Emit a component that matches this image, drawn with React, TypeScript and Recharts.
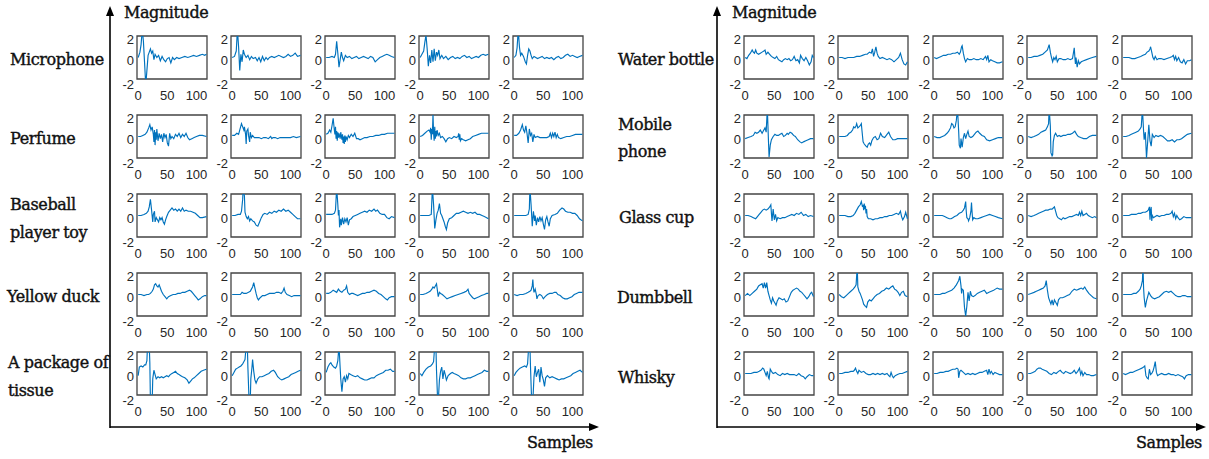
import React from "react";
import { LineChart, Line, XAxis, YAxis, ReferenceArea } from "recharts";

type Pt = [number, number];

// ---------- axis values ----------
const SAMPLE_DOMAIN: [number, number] = [-2, 118];
const SAMPLE_TICKS = [0, 50, 100];
const MAG_DOMAIN: [number, number] = [-2, 2];
const MAG_TICKS = [-2, 0, 2];

// ---------- object names ----------
const leftObjects: string[][] = [["Microphone"], ["Perfume"], ["Baseball", "player toy"], ["Yellow duck"], ["A package of", "tissue"]];
const rightObjects: string[][] = [["Water bottle"], ["Mobile", "phone"], ["Glass cup"], ["Dumbbell"], ["Whisky"]];

// ---------- signals: [sample, magnitude] ----------
const microphone: Pt[][] = [
  [[0,0],[3,0.5],[5,1.2],[7,2.6],[9,1.5],[11,-0.5],[13,-2.6],[15,-1.2],[17,0.2],[19,0.5],[21,0.8],[23,0.4],[25,0.6],[27,-0.2],[29,0.3],[32,0.0],[35,0.2],[38,-0.3],[41,0.1],[44,-0.2],[47,-0.4],[50,-0.1],[53,0.0],[56,-0.5],[59,0.0],[62,-0.2],[66,0.0],[70,-0.1],[75,0.0],[80,0.1],[85,0.0],[90,0.1],[95,0.2],[100,0.1],[105,0.2],[110,0.3],[114,0.2],[117,0.3]],
  [[0,0],[4,0.1],[7,0.6],[9,2.6],[11,1.0],[13,-1.2],[15,0.3],[17,-0.4],[19,0.7],[21,0.3],[24,0.0],[27,0.2],[30,-0.2],[33,0.1],[36,-0.1],[40,0.0],[43,-0.3],[46,0.0],[49,-0.4],[52,0.1],[55,-0.3],[58,0.0],[61,-0.2],[64,0.0],[68,0.1],[72,0.0],[76,0.1],[80,0.2],[84,0.1],[88,0.0],[92,0.1],[96,0.3],[100,0.1],[104,0.2],[108,0.4],[112,0.1],[117,0.2]],
  [[0,0],[5,0.0],[10,0.1],[14,0.0],[16,0.3],[18,1.5],[20,0.4],[22,-0.9],[24,-0.2],[26,0.5],[28,0.0],[30,-0.3],[33,0.2],[36,0.0],[40,0.1],[44,-0.1],[48,0.0],[52,0.1],[56,-0.1],[60,0.0],[64,0.1],[68,0.0],[72,-0.1],[76,0.1],[80,0.0],[84,-0.4],[88,-0.2],[92,0.0],[96,0.1],[100,0.2],[104,0.3],[108,0.2],[112,0.1],[117,0.0]],
  [[0,0],[3,0.3],[6,0.6],[8,1.4],[10,2.1],[12,0.8],[14,-0.8],[16,0.2],[18,-0.5],[20,0.7],[22,-0.4],[24,0.8],[26,-0.3],[28,0.5],[30,0.2],[32,0.7],[34,-0.1],[37,0.2],[40,-0.1],[44,0.1],[48,-0.2],[52,0.0],[56,0.1],[60,-0.1],[64,0.0],[68,-0.1],[72,0.1],[76,0.2],[80,0.0],[84,0.1],[88,-0.1],[92,0.0],[96,0.1],[100,0.0],[104,0.2],[108,0.3],[112,0.2],[117,0.3]],
  [[0,0],[3,0.2],[5,0.9],[7,2.6],[9,1.0],[11,0.2],[13,0.4],[16,0.1],[19,-0.4],[21,-0.6],[23,0.2],[25,0.8],[27,0.6],[29,0.2],[31,-0.1],[34,0.1],[37,0.0],[40,-0.1],[44,0.0],[48,0.1],[52,-0.1],[56,0.0],[60,-0.1],[64,0.0],[68,-0.2],[72,0.0],[76,0.1],[80,-0.1],[84,0.0],[88,0.2],[92,0.3],[96,0.1],[100,0.2],[104,0.1],[108,0.0],[112,0.1],[117,0.2]],
];

const perfume: Pt[][] = [
  [[0,0],[4,0.0],[8,0.1],[12,0.2],[15,0.4],[18,0.8],[20,1.1],[22,0.6],[24,0.9],[26,0.2],[27,-0.5],[28,0.6],[29,-0.8],[30,0.4],[31,-0.3],[32,0.7],[34,-0.4],[36,0.3],[38,-0.2],[40,0.2],[42,-0.5],[44,0.3],[46,-0.1],[48,0.2],[50,-0.6],[52,-0.9],[54,0.3],[56,-0.2],[58,0.0],[61,-0.2],[64,0.2],[67,0.0],[70,0.3],[73,-0.1],[76,0.2],[79,0.0],[82,0.3],[85,-0.1],[88,-0.3],[92,-0.2],[96,-0.1],[100,0.0],[105,0.1],[110,0.1],[117,0.0]],
  [[0,0.1],[4,0.1],[8,0.3],[11,0.2],[14,0.8],[16,1.2],[18,0.9],[20,0.6],[21,0.9],[23,0.2],[24,-0.7],[25,0.5],[27,0.7],[28,0.1],[30,-0.5],[31,0.4],[33,-0.1],[35,0.1],[38,-0.1],[42,-0.1],[46,-0.1],[50,-0.2],[54,-0.1],[58,-0.1],[62,-0.2],[66,0.0],[68,-0.2],[70,-0.1],[74,-0.1],[78,-0.2],[82,-0.1],[86,-0.1],[90,-0.1],[95,-0.1],[100,-0.1],[105,0.0],[110,-0.1],[117,0.0]],
  [[0,0.2],[3,0.3],[6,0.6],[8,0.4],[10,1.0],[12,1.7],[14,0.6],[15,0.2],[16,0.9],[17,-0.2],[18,0.5],[19,-0.4],[20,0.4],[21,-0.1],[22,0.3],[24,-0.2],[25,0.4],[27,-0.3],[28,0.2],[29,-0.6],[30,0.0],[31,-0.7],[32,0.1],[33,-0.5],[34,0.0],[36,-0.3],[38,0.1],[40,-0.1],[43,0.2],[46,0.0],[49,0.3],[52,-0.2],[55,-0.2],[58,-0.3],[62,-0.2],[66,-0.1],[70,-0.1],[75,0.0],[80,0.0],[85,0.1],[90,0.1],[95,0.2],[100,0.2],[105,0.3],[110,0.3],[117,0.3]],
  [[0,0],[4,0.1],[8,0.3],[12,0.5],[15,0.6],[17,0.4],[18,0.8],[19,-0.3],[20,0.7],[21,0.2],[22,2.1],[23,0.3],[24,-0.4],[25,0.9],[26,-0.2],[27,0.5],[28,0.0],[29,0.6],[31,0.1],[33,0.3],[35,-0.1],[38,0.0],[41,-0.2],[44,-0.5],[47,-0.2],[50,-0.1],[54,-0.2],[58,0.0],[62,-0.1],[65,0.0],[66,0.3],[67,-0.3],[68,0.2],[69,-0.4],[71,-0.2],[74,-0.3],[78,-0.4],[82,-0.3],[86,-0.2],[90,0.0],[95,0.1],[100,0.2],[105,0.3],[110,0.3],[117,0.3]],
  [[0,0.1],[4,0.1],[8,0.3],[11,0.6],[14,1.1],[16,0.6],[18,0.4],[20,1.0],[22,0.3],[24,-0.6],[26,0.7],[28,0.1],[30,0.3],[32,-0.5],[34,0.2],[36,-0.1],[40,0.0],[44,-0.1],[48,-0.1],[52,-0.1],[56,-0.1],[60,0.0],[62,0.3],[64,-0.1],[66,0.3],[68,0.0],[70,0.4],[72,-0.1],[74,0.2],[76,-0.1],[80,-0.2],[85,-0.1],[90,0.0],[95,0.0],[100,0.1],[105,0.2],[110,0.2],[117,0.2]],
];

const baseballPlayerToy: Pt[][] = [
  [[0,0],[5,0.0],[10,0.1],[14,0.2],[17,0.4],[19,0.8],[21,1.5],[23,0.5],[25,-0.6],[26,0.1],[28,0.4],[29,-0.6],[31,-0.2],[33,-0.4],[35,-0.6],[37,-0.2],[39,-0.4],[41,-0.2],[43,-0.6],[45,-0.8],[47,-0.4],[49,-0.1],[52,0.3],[55,0.5],[58,0.7],[61,0.5],[64,0.6],[67,0.4],[70,0.6],[73,0.4],[76,0.7],[79,0.4],[82,0.5],[86,0.4],[90,0.4],[94,0.3],[98,0.2],[102,0.0],[106,-0.2],[110,-0.2],[117,-0.1]],
  [[0,0],[5,0.0],[10,0.1],[14,0.1],[16,0.4],[18,1.5],[19,2.6],[21,1.8],[22,0.3],[24,-0.1],[26,-0.3],[28,-0.1],[30,-0.5],[32,-0.3],[35,-0.5],[38,-0.6],[41,-0.9],[44,-1.0],[47,-0.6],[50,-0.2],[53,0.1],[56,0.2],[60,0.1],[64,0.3],[68,0.2],[72,0.4],[76,0.3],[80,0.5],[84,0.4],[88,0.6],[92,0.4],[96,0.5],[100,0.3],[104,0.1],[108,-0.1],[112,-0.3],[117,-0.3]],
  [[0,0.1],[5,0.1],[10,0.1],[14,0.2],[16,0.5],[18,2.6],[20,1.0],[21,0.0],[22,0.5],[23,-1.1],[25,-0.3],[26,-0.9],[28,-0.2],[30,-0.8],[32,-0.3],[34,-0.6],[36,-0.2],[38,-0.9],[40,-0.4],[43,-0.3],[46,-0.1],[50,0.0],[54,0.1],[58,0.2],[62,0.3],[66,0.4],[70,0.3],[74,0.5],[78,0.4],[82,0.6],[85,0.4],[88,0.5],[92,0.2],[96,0.1],[100,0.1],[104,-0.2],[108,-0.3],[112,-0.1],[117,-0.2]],
  [[0,0],[5,0.0],[10,0.0],[15,0.0],[19,0.1],[21,2.6],[23,1.0],[25,-1.2],[27,-0.4],[29,0.2],[31,0.5],[33,1.1],[35,0.2],[37,0.0],[39,-0.3],[41,-0.6],[43,-1.0],[45,-1.3],[47,-0.7],[50,-0.3],[54,-0.2],[58,0.0],[62,0.2],[66,0.2],[70,0.3],[74,0.4],[78,0.3],[82,0.2],[86,0.3],[90,0.2],[94,0.3],[98,0.1],[102,0.1],[106,0.0],[110,-0.1],[114,-0.2],[117,-0.3]],
  [[0,0],[5,0.0],[10,0.0],[15,0.0],[20,0.0],[24,0.1],[26,0.6],[27,2.6],[29,1.0],[31,-1.0],[33,0.4],[35,-0.5],[36,0.0],[38,-0.9],[40,-0.2],[42,-0.6],[44,-0.1],[46,-0.5],[48,-0.2],[50,-0.8],[52,-1.3],[54,-0.4],[56,-0.1],[58,-0.6],[60,-1.0],[62,-0.3],[65,0.0],[70,0.1],[74,0.2],[78,0.5],[82,0.7],[85,0.6],[88,0.4],[92,0.3],[96,0.3],[100,0.2],[104,0.2],[108,0.0],[112,-0.3],[117,-0.5]],
];

const yellowDuck: Pt[][] = [
  [[0,0],[5,0.0],[10,-0.1],[15,0.0],[18,0.0],[21,0.1],[24,0.3],[26,0.5],[28,0.9],[30,1.0],[32,0.8],[34,0.7],[36,0.9],[38,0.6],[40,0.3],[43,0.0],[46,-0.2],[49,-0.4],[52,-0.2],[56,-0.1],[60,0.0],[64,0.0],[68,0.1],[72,0.1],[76,0.2],[80,0.2],[84,0.3],[88,0.4],[91,0.3],[94,0.1],[97,-0.1],[100,-0.3],[103,-0.5],[106,-0.4],[110,-0.2],[114,-0.1],[117,-0.1]],
  [[0,0],[5,0.0],[10,0.0],[14,0.0],[17,0.2],[20,0.1],[24,0.1],[28,0.2],[31,0.3],[33,0.5],[35,0.7],[37,1.1],[39,0.6],[41,0.1],[43,-0.3],[45,-0.5],[48,-0.3],[52,-0.1],[56,-0.1],[60,0.0],[64,0.1],[68,0.1],[72,0.1],[76,0.2],[80,0.2],[84,0.1],[87,0.3],[89,0.6],[91,0.2],[94,0.0],[98,-0.1],[102,-0.2],[106,-0.1],[110,-0.1],[114,-0.1],[117,-0.1]],
  [[0,0.1],[4,0.1],[8,0.2],[12,0.4],[15,0.3],[18,0.2],[21,0.5],[24,0.3],[27,0.2],[30,0.4],[33,0.5],[35,0.8],[37,0.2],[40,0.0],[43,0.1],[46,0.1],[50,0.0],[54,-0.1],[58,0.0],[62,0.1],[66,0.1],[70,0.2],[74,0.2],[78,0.3],[82,0.4],[86,0.3],[90,0.1],[94,0.0],[98,-0.2],[102,-0.4],[105,-0.5],[108,-0.3],[112,-0.2],[117,-0.2]],
  [[0,0],[5,0.0],[10,0.1],[14,0.2],[17,0.3],[20,0.5],[22,0.7],[24,0.6],[26,0.8],[28,1.0],[29,0.6],[31,-0.2],[33,0.2],[35,0.1],[38,0.0],[42,-0.2],[46,-0.4],[50,-0.3],[55,-0.2],[60,-0.1],[65,0.0],[70,0.1],[75,0.2],[79,0.3],[82,0.5],[84,0.1],[87,-0.1],[90,-0.3],[93,-0.4],[97,-0.3],[101,-0.2],[105,-0.1],[110,0.0],[114,0.1],[117,0.1]],
  [[0,0],[5,-0.1],[10,0.0],[15,0.0],[20,0.1],[24,0.2],[27,0.3],[29,0.4],[31,0.8],[32,1.4],[33,0.6],[34,0.2],[36,0.5],[38,0.0],[39,-0.4],[41,-0.1],[44,0.0],[47,-0.1],[50,-0.4],[53,-0.2],[57,0.0],[61,0.1],[65,0.1],[69,0.2],[72,0.2],[75,0.0],[79,-0.1],[83,-0.3],[87,-0.4],[91,-0.4],[95,-0.3],[99,-0.2],[103,0.0],[107,0.1],[111,0.2],[117,0.2]],
];

const tissue: Pt[][] = [
  [[0,-0.2],[2,0.6],[5,0.7],[8,0.6],[11,0.8],[13,0.8],[15,1.2],[16,2.6],[19,2.6],[20,1.0],[21,-2.6],[24,-2.6],[25,-0.5],[27,0.3],[29,-0.1],[31,-0.5],[34,-0.3],[37,-0.4],[40,-0.3],[43,-0.4],[46,-0.3],[49,-0.2],[52,-0.3],[55,-0.1],[58,0.0],[61,0.1],[64,0.2],[67,0.0],[70,-0.1],[73,-0.2],[76,-0.3],[80,-0.4],[84,-0.6],[87,-0.9],[90,-0.7],[93,-0.5],[96,-0.4],[100,-0.2],[104,0.0],[108,0.2],[112,0.3],[117,0.4]],
  [[0,-0.2],[3,0.1],[6,0.4],[9,0.5],[12,0.6],[15,0.7],[18,0.9],[20,1.1],[22,1.3],[24,2.6],[26,2.6],[27,0.5],[29,-2.6],[31,-2.6],[32,-0.5],[34,0.6],[35,1.3],[37,0.2],[39,-0.6],[41,-0.9],[44,-0.5],[47,-0.3],[51,-0.3],[55,-0.2],[59,-0.1],[63,0.0],[67,0.2],[71,0.3],[74,0.1],[78,-0.3],[82,-0.5],[85,-0.6],[89,-0.5],[93,-0.4],[97,-0.3],[101,-0.1],[105,0.0],[109,0.1],[113,0.2],[117,0.3]],
  [[0,0.1],[3,0.6],[6,0.9],[8,1.0],[10,0.8],[13,0.6],[16,0.5],[18,0.7],[20,1.2],[22,2.6],[24,0.5],[25,-0.5],[27,-1.7],[29,-0.5],[31,-0.3],[33,-0.8],[35,-0.2],[37,-0.5],[39,0.0],[42,-0.1],[46,-0.2],[50,-0.3],[54,-0.2],[58,-0.4],[62,-0.5],[66,-0.6],[70,-0.6],[74,-0.5],[78,-0.4],[82,-0.4],[86,-0.2],[90,-0.1],[94,0.0],[98,0.1],[102,0.3],[106,0.3],[110,0.4],[114,0.2],[117,0.2]],
  [[0,0],[3,-0.2],[6,0.1],[10,0.4],[14,0.6],[18,0.7],[21,0.9],[23,1.1],[25,2.6],[27,2.6],[28,0.3],[30,-2.6],[31,-2.6],[33,-0.6],[35,0.2],[37,0.6],[39,-0.5],[41,0.3],[43,-0.1],[45,-0.6],[48,-0.2],[52,0.0],[55,0.1],[58,0.0],[62,-0.1],[66,-0.2],[70,-0.4],[74,-0.5],[78,-0.5],[82,-0.4],[86,-0.4],[90,-0.3],[94,-0.2],[98,-0.1],[102,0.0],[106,0.1],[110,0.3],[114,0.2],[117,0.2]],
  [[0,-0.2],[3,0.1],[6,0.3],[10,0.5],[14,0.6],[18,0.7],[21,0.6],[23,0.9],[25,2.6],[27,2.6],[28,0.6],[30,-2.6],[32,-2.6],[34,-0.3],[36,0.7],[38,-0.3],[40,0.1],[42,0.4],[44,-0.8],[46,0.6],[48,-0.2],[50,-0.6],[52,-1.2],[54,-0.4],[57,-0.2],[61,-0.4],[65,-0.3],[69,-0.4],[73,-0.5],[77,-0.6],[81,-0.5],[85,-0.5],[89,-0.4],[93,-0.3],[97,-0.2],[101,0.0],[105,0.1],[109,0.2],[113,0.3],[117,0.1]],
];

const waterBottle: Pt[][] = [
  [[0,0],[3,-0.1],[6,0.2],[9,0.4],[12,0.7],[14,0.5],[16,0.4],[18,0.7],[20,0.4],[23,0.3],[26,0.4],[29,0.5],[32,0.6],[34,0.7],[36,0.3],[39,0.5],[42,0.3],[45,0.1],[48,0.0],[51,-0.1],[54,0.1],[57,-0.2],[60,-0.3],[63,-0.4],[66,-0.2],[69,-0.1],[72,-0.2],[75,-0.1],[78,-0.3],[81,-0.2],[84,0.1],[87,-0.3],[90,-0.2],[93,-0.5],[95,0.2],[98,-0.1],[101,-0.3],[104,0.0],[107,-0.3],[110,-0.7],[113,-0.4],[115,0.2],[117,0.0]],
  [[0,0],[5,0.0],[10,-0.1],[15,0.0],[20,0.0],[25,0.0],[30,0.1],[35,0.1],[40,0.2],[45,0.3],[48,0.3],[52,0.5],[55,0.4],[57,0.8],[59,0.1],[61,0.5],[63,1.0],[65,0.4],[67,0.1],[70,-0.1],[74,0.0],[78,-0.1],[82,-0.2],[86,-0.1],[90,-0.2],[94,-0.4],[98,-0.2],[102,0.0],[105,0.4],[108,-0.2],[111,-0.6],[114,-0.7],[117,-0.4]],
  [[0,0],[4,-0.1],[8,0.0],[12,0.1],[16,0.2],[20,0.2],[24,0.3],[28,0.3],[32,0.4],[36,0.4],[40,0.5],[43,0.3],[45,0.5],[47,1.0],[48,1.1],[50,0.4],[52,-0.1],[54,-0.4],[57,-0.1],[60,-0.2],[64,-0.2],[68,-0.1],[72,-0.2],[76,-0.2],[80,-0.1],[84,-0.2],[88,0.1],[90,-0.2],[92,0.2],[94,-0.4],[97,-0.2],[100,-0.3],[104,-0.4],[108,-0.5],[112,-0.5],[117,-0.4]],
  [[0,0],[5,0.0],[10,0.1],[15,0.1],[20,0.2],[25,0.3],[29,0.5],[33,0.7],[36,1.2],[38,0.5],[40,0.0],[42,-0.4],[44,0.0],[46,-0.2],[48,0.1],[50,-0.4],[53,-0.1],[56,-0.1],[60,-0.2],[64,-0.2],[68,-0.1],[72,-0.2],[76,-0.1],[79,0.9],[80,0.1],[81,-0.6],[82,0.0],[84,-0.9],[86,-0.3],[88,-0.6],[91,-0.4],[95,-0.3],[100,-0.2],[105,-0.1],[110,0.0],[117,0.1]],
  [[0,0],[5,0.0],[10,0.0],[15,-0.1],[20,-0.1],[25,0.0],[30,0.1],[34,0.2],[38,0.3],[41,0.5],[44,0.6],[46,0.8],[47,1.0],[49,0.5],[51,0.0],[53,-0.2],[55,0.1],[58,-0.2],[61,-0.1],[65,-0.1],[70,-0.2],[75,-0.1],[80,0.0],[84,0.1],[86,0.2],[88,-0.2],[90,0.1],[92,-0.3],[95,0.0],[98,-0.4],[101,-0.5],[104,-0.2],[107,-0.6],[110,-0.3],[114,-0.3],[117,-0.2]],
];

const mobilePhone: Pt[][] = [
  [[0,-0.2],[5,-0.1],[10,0.0],[14,0.1],[17,0.4],[20,0.3],[23,0.4],[26,0.6],[29,0.3],[32,0.6],[34,0.8],[36,0.4],[38,2.6],[40,-0.5],[41,-1.9],[43,-0.8],[45,-0.3],[48,0.0],[51,0.2],[54,0.1],[57,0.1],[60,0.2],[63,0.3],[66,0.0],[69,0.1],[72,0.3],[74,0.2],[77,0.4],[80,0.3],[83,0.1],[86,0.0],[90,-0.3],[94,-0.5],[97,-0.6],[100,-0.5],[104,-0.4],[108,-0.3],[112,-0.2],[117,-0.2]],
  [[0,0],[5,0.0],[10,0.0],[14,0.1],[17,0.3],[20,0.4],[23,0.6],[25,0.9],[27,0.8],[29,1.0],[30,1.2],[32,0.8],[34,0.9],[36,1.0],[38,1.2],[39,0.6],[41,-0.5],[43,-0.7],[46,-0.9],[48,-1.0],[50,-0.7],[52,-0.6],[54,-0.8],[56,-0.4],[59,-0.1],[62,0.0],[65,-0.3],[68,-0.2],[71,0.3],[74,0.0],[78,-0.1],[82,0.2],[85,0.4],[88,0.0],[92,-0.3],[96,-0.3],[100,-0.2],[105,-0.2],[110,-0.2],[117,-0.2]],
  [[0,0],[5,-0.1],[10,-0.1],[14,0.0],[18,0.1],[22,0.3],[25,0.5],[28,0.8],[30,1.2],[32,1.1],[34,0.8],[36,0.9],[38,1.5],[40,2.6],[42,0.5],[43,-0.8],[45,-1.1],[46,-0.2],[48,-1.0],[50,-0.1],[52,0.3],[54,-0.2],[56,0.2],[58,0.5],[60,0.0],[63,-0.1],[66,0.0],[69,0.2],[72,0.4],[75,0.5],[78,0.3],[82,0.1],[86,0.0],[90,-0.3],[95,-0.4],[100,-0.3],[105,-0.2],[110,-0.1],[117,-0.1]],
  [[0,0],[5,-0.1],[10,0.0],[14,0.1],[18,0.2],[22,0.4],[26,0.5],[30,0.6],[33,0.9],[35,1.2],[36,2.6],[38,1.0],[39,-1.5],[41,-1.8],[42,-1.7],[43,-0.5],[45,0.1],[47,0.3],[50,0.0],[53,0.1],[56,0.0],[60,0.1],[64,0.1],[68,0.2],[72,0.2],[76,0.3],[80,0.5],[83,0.2],[86,0.0],[90,-0.1],[95,-0.2],[100,-0.2],[105,0.0],[110,0.1],[117,0.1]],
  [[0,0],[5,0.0],[10,0.1],[14,0.2],[18,0.3],[22,0.4],[26,0.5],[29,0.7],[31,0.9],[33,2.6],[35,0.5],[36,-0.3],[38,0.4],[40,-2.0],[42,-0.5],[44,1.1],[46,-0.4],[48,-0.9],[50,0.2],[53,-0.1],[56,0.1],[60,0.0],[64,0.1],[68,0.0],[72,-0.2],[76,-0.4],[80,-0.4],[84,-0.3],[88,-0.5],[92,-0.3],[96,-0.3],[100,-0.2],[105,0.0],[110,0.2],[117,0.3]],
];

const glassCup: Pt[][] = [
  [[0,0],[5,0.0],[10,-0.1],[14,-0.2],[18,-0.3],[21,-0.1],[24,0.1],[27,0.3],[30,0.5],[33,0.6],[36,0.5],[39,0.6],[42,0.8],[44,1.0],[45,0.2],[46,-0.5],[48,0.6],[49,0.1],[50,-0.4],[52,0.1],[54,-0.5],[56,-0.2],[60,-0.3],[64,-0.2],[68,-0.2],[72,-0.1],[76,0.0],[80,0.1],[84,0.0],[88,0.2],[92,0.1],[96,0.3],[100,0.0],[104,0.1],[108,-0.1],[112,0.0],[117,-0.1]],
  [[0,0],[5,0.0],[10,0.0],[15,-0.1],[20,-0.1],[24,0.0],[27,0.2],[30,0.5],[33,0.8],[36,1.0],[38,1.3],[40,0.8],[41,1.0],[42,0.5],[43,1.1],[44,0.6],[45,0.9],[46,0.2],[47,0.6],[48,-0.1],[50,-0.3],[54,-0.3],[58,-0.4],[62,-0.3],[66,-0.3],[70,-0.2],[74,-0.2],[78,-0.1],[82,-0.1],[86,0.0],[90,0.0],[94,0.1],[98,0.2],[102,0.1],[105,0.4],[107,-0.1],[109,-0.4],[112,-0.1],[114,0.3],[117,-0.3]],
  [[0,0],[5,0.0],[10,0.0],[14,0.0],[18,-0.1],[22,-0.2],[26,-0.3],[29,-0.3],[32,-0.2],[35,-0.1],[39,0.0],[43,0.2],[47,0.3],[50,0.5],[52,0.7],[54,1.3],[55,0.4],[56,-0.2],[58,-0.3],[59,-0.5],[61,-0.2],[63,0.4],[64,1.2],[65,0.3],[66,-0.4],[68,-0.2],[71,-0.3],[75,-0.3],[80,-0.2],[85,-0.1],[90,0.0],[95,0.1],[100,0.0],[105,-0.1],[110,-0.2],[117,-0.3]],
  [[0,0],[5,-0.1],[10,0.0],[14,0.1],[18,0.2],[22,0.3],[26,0.4],[30,0.5],[34,0.5],[38,0.6],[41,0.6],[43,0.7],[45,0.8],[47,0.4],[49,0.0],[51,-0.2],[54,-0.3],[57,-0.4],[60,-0.2],[63,-0.3],[67,-0.2],[71,-0.1],[75,-0.1],[79,0.0],[83,0.1],[86,0.0],[88,0.3],[90,0.0],[92,0.4],[94,0.0],[97,0.1],[100,0.2],[103,0.0],[106,-0.1],[110,-0.2],[114,-0.1],[117,-0.2]],
  [[0,0],[5,0.0],[10,0.0],[14,0.1],[18,0.1],[22,0.1],[26,0.2],[30,0.2],[34,0.3],[38,0.3],[41,0.4],[43,0.5],[45,0.8],[46,-0.4],[47,0.5],[48,0.8],[49,-0.5],[50,0.0],[52,-0.2],[55,-0.1],[58,0.0],[62,-0.1],[66,0.0],[70,0.0],[74,0.1],[78,0.1],[82,0.2],[84,0.4],[86,-0.1],[88,0.2],[90,-0.3],[92,0.0],[94,-0.2],[97,-0.4],[100,-0.3],[104,-0.1],[108,-0.2],[112,-0.2],[117,-0.2]],
];

const dumbbell: Pt[][] = [
  [[0,-0.1],[4,0.1],[8,-0.1],[12,0.1],[16,0.3],[20,0.5],[23,0.8],[26,0.9],[29,1.0],[31,0.6],[33,1.1],[35,0.6],[37,1.1],[39,0.3],[41,-0.1],[43,-0.5],[45,-0.8],[47,-0.3],[49,-0.6],[51,-0.8],[53,-1.0],[55,-0.6],[58,-0.3],[61,-0.4],[64,-0.5],[67,-0.4],[70,-0.7],[73,-0.6],[76,-0.2],[79,0.2],[82,0.4],[85,0.5],[88,0.6],[91,0.5],[94,0.3],[97,0.2],[100,0.0],[103,-0.2],[106,-0.4],[109,-0.2],[112,0.1],[114,0.2],[117,-0.2]],
  [[0,0],[4,-0.2],[8,-0.3],[12,-0.1],[16,0.1],[20,0.3],[24,0.5],[27,0.7],[29,0.9],[31,2.6],[32,0.7],[34,0.3],[36,0.1],[38,-0.2],[40,-0.5],[42,-0.9],[45,-1.1],[47,-1.2],[49,-0.7],[52,-0.5],[55,-0.6],[58,-0.4],[61,-0.2],[65,0.0],[69,0.1],[73,0.3],[77,0.4],[81,0.6],[85,0.5],[89,0.7],[92,0.8],[95,0.5],[98,0.4],[101,0.2],[104,-0.1],[107,0.2],[110,0.3],[113,-0.1],[117,-0.2]],
  [[0,0],[5,0.0],[10,0.0],[14,0.1],[18,0.1],[22,0.2],[26,0.3],[30,0.4],[34,0.6],[38,0.9],[40,1.1],[42,1.3],[44,1.7],[46,0.8],[47,0.1],[48,0.5],[50,0.4],[52,-1.2],[54,-2.0],[56,-1.1],[58,0.2],[60,-0.6],[62,0.3],[64,-0.1],[67,-0.2],[70,-0.1],[74,0.1],[78,0.2],[82,0.3],[86,0.4],[90,0.1],[94,0.2],[98,0.3],[102,0.4],[105,0.5],[108,0.6],[112,0.5],[117,0.5]],
  [[0,0],[5,0.1],[10,0.2],[14,0.3],[18,0.4],[22,0.5],[26,0.6],[29,0.8],[31,1.3],[33,0.4],[35,-0.3],[37,-0.6],[39,-0.9],[41,-0.5],[43,-1.0],[45,-0.5],[47,-0.7],[50,-1.0],[52,-0.5],[55,-0.3],[59,-0.3],[63,-0.2],[67,-0.1],[71,0.0],[75,0.3],[79,0.5],[83,0.4],[87,0.5],[91,0.6],[94,0.5],[97,0.7],[100,0.4],[104,0.1],[108,-0.1],[112,-0.3],[117,-0.4]],
  [[0,0],[5,0.0],[10,0.0],[14,0.0],[18,0.1],[22,0.1],[26,0.3],[29,0.5],[31,0.8],[33,1.3],[34,2.6],[35,0.6],[36,-0.3],[38,-1.2],[40,-0.6],[42,-0.2],[44,0.2],[47,-0.1],[50,-0.3],[54,-0.4],[58,-0.3],[62,-0.2],[66,0.0],[70,0.2],[74,0.3],[78,0.2],[82,0.3],[86,0.1],[90,-0.1],[94,-0.2],[98,-0.2],[102,-0.1],[106,-0.1],[110,-0.2],[117,-0.2]],
];

const whisky: Pt[][] = [
  [[0,0],[5,0.0],[10,0.0],[15,0.1],[20,0.1],[24,0.2],[27,0.3],[30,0.5],[32,0.4],[34,0.1],[36,-0.2],[38,0.2],[40,-0.4],[41,-0.5],[43,0.4],[45,0.2],[48,0.0],[52,0.1],[56,-0.1],[60,-0.2],[64,0.0],[68,-0.1],[72,0.0],[76,-0.1],[80,-0.1],[84,-0.1],[88,-0.2],[92,0.0],[96,-0.2],[100,-0.3],[103,-0.5],[106,-0.3],[110,-0.1],[114,-0.2],[117,-0.2]],
  [[0,0],[5,0.0],[10,0.1],[15,0.1],[20,0.2],[24,0.2],[26,0.3],[28,0.5],[30,0.2],[32,0.0],[34,0.3],[36,0.2],[38,0.1],[42,0.2],[46,0.0],[50,-0.1],[54,-0.1],[58,0.0],[62,-0.1],[66,0.0],[70,-0.1],[74,0.0],[78,-0.1],[82,0.0],[85,-0.2],[87,-0.3],[89,0.1],[91,-0.2],[93,-0.4],[96,-0.2],[100,-0.1],[104,0.0],[108,0.0],[112,0.1],[117,0.2]],
  [[0,0],[5,0.0],[10,0.1],[15,0.1],[20,0.2],[24,0.2],[28,0.3],[32,0.4],[36,0.4],[39,0.5],[41,0.4],[42,-0.4],[44,0.2],[46,0.3],[50,0.1],[54,-0.1],[58,0.0],[62,-0.1],[66,0.0],[70,-0.1],[74,0.0],[78,0.1],[82,0.1],[86,0.2],[90,0.3],[92,-0.1],[94,0.4],[96,0.0],[98,0.2],[101,-0.1],[104,0.1],[108,0.0],[112,-0.1],[117,-0.1]],
  [[0,0],[4,0.0],[8,0.1],[12,0.2],[15,0.4],[18,0.5],[21,0.5],[24,0.4],[28,0.3],[32,0.2],[36,0.0],[40,-0.1],[44,0.1],[48,0.0],[52,0.2],[55,0.3],[58,0.1],[61,0.0],[64,0.2],[68,0.1],[72,0.0],[76,0.1],[79,0.3],[82,0.0],[85,0.2],[88,0.5],[90,-0.1],[92,0.2],[94,-0.2],[97,0.1],[100,-0.1],[104,-0.1],[108,-0.2],[112,-0.2],[117,-0.1]],
  [[0,0],[4,-0.1],[8,0.0],[12,0.1],[16,0.1],[20,0.2],[24,0.3],[28,0.4],[32,0.5],[35,0.6],[37,0.7],[39,-0.2],[41,-0.4],[43,-0.5],[45,0.4],[47,-0.1],[49,0.0],[51,0.2],[53,0.6],[55,1.1],[57,0.1],[59,-0.2],[62,-0.1],[66,0.0],[70,-0.1],[74,-0.1],[78,0.0],[82,-0.1],[86,-0.1],[90,-0.2],[94,-0.1],[98,-0.2],[102,-0.3],[105,-0.5],[108,-0.2],[112,-0.1],[117,-0.1]],
];

const leftRows = [microphone, perfume, baseballPlayerToy, yellowDuck, tissue];
const rightRows = [waterBottle, mobilePhone, glassCup, dumbbell, whisky];

// ---------- layout ----------
const LEFT_COLS = [137, 231, 325, 419, 513];
const RIGHT_COLS = [744, 838, 933, 1027, 1122];
const ROWS = [36, 115, 194, 273, 352];
const BOX_W = 70;
const BOX_H = 43;
const Y_W = 20;
const M_TOP = 6;
const M_RIGHT = 10;
const X_H = 28;

const TICK_FONT = "'Liberation Sans', Arial, sans-serif";
const TICK_COLOR = "#262626";
const SERIF = "'DejaVu Serif', serif";

const XTick = (p: any) => (
  <text x={p.x} y={p.y + 12} dy="0.71em" textAnchor="middle" fontSize={13} fontFamily={TICK_FONT} fill={TICK_COLOR}>
    {p.payload.value}
  </text>
);

const YTick = (p: any) => {
  const v = p.payload.value;
  const off = v === -2 ? 5 : 3;
  return (
    <text x={p.x - 3} y={p.y + off} dy="0.355em" textAnchor="end" fontSize={13} fontFamily={TICK_FONT} fill={TICK_COLOR}>
      {v}
    </text>
  );
};

function Cell({ series, left, top }: { series: Pt[]; left: number; top: number }) {
  const data = series.map(([x, y]) => ({ x, y }));
  return (
    <div style={{ position: "absolute", left: left - Y_W, top: top - M_TOP }}>
      <LineChart width={Y_W + BOX_W + M_RIGHT} height={M_TOP + BOX_H + X_H} data={data} margin={{ top: M_TOP, right: M_RIGHT, bottom: 0, left: 0 }}>
        <XAxis dataKey="x" type="number" domain={SAMPLE_DOMAIN} ticks={SAMPLE_TICKS} interval={0} allowDataOverflow tickLine={false} axisLine={false} tickSize={0} tickMargin={0} height={X_H} tick={(p: any) => <XTick {...p} />} />
        <YAxis type="number" domain={MAG_DOMAIN} ticks={MAG_TICKS} interval={0} allowDataOverflow tickLine={false} axisLine={false} tickSize={0} tickMargin={0} width={Y_W} tick={(p: any) => <YTick {...p} />} />
        <Line dataKey="y" type="linear" stroke="#0072BD" strokeWidth={1.15} dot={false} isAnimationActive={false} />
        <ReferenceArea x1={SAMPLE_DOMAIN[0]} x2={SAMPLE_DOMAIN[1]} y1={MAG_DOMAIN[0]} y2={MAG_DOMAIN[1]} fill="none" fillOpacity={0} stroke="#444" strokeWidth={1.3} ifOverflow="visible" />
      </LineChart>
    </div>
  );
}

function Label({ text, x, baseline }: { text: string; x: number; baseline: number }) {
  return (
    <div style={{ position: "absolute", left: x, top: baseline - 15.5, font: `16px ${SERIF}`, lineHeight: "20px", letterSpacing: "-0.4px", whiteSpace: "nowrap", color: "#111", WebkitTextStroke: "0.4px #111" }}>
      {text}
    </div>
  );
}

const LEFT_LABEL_POS: { x: number; baselines: number[] }[] = [
  { x: 10, baselines: [65] },
  { x: 10, baselines: [144] },
  { x: 10, baselines: [210, 238] },
  { x: 7, baselines: [302] },
  { x: 8, baselines: [368, 396] },
];
const RIGHT_LABEL_POS: { x: number; baselines: number[] }[] = [
  { x: 618, baselines: [65] },
  { x: 618, baselines: [130, 157] },
  { x: 619, baselines: [223] },
  { x: 617, baselines: [303] },
  { x: 618, baselines: [383] },
];

function Arrows() {
  return (
    <svg width={1209} height={459} style={{ position: "absolute", left: 0, top: 0, pointerEvents: "none" }}>
      <g stroke="#000" strokeWidth={1.6}>
        <line x1={110} y1={428} x2={110} y2={14} />
        <line x1={110} y1={427} x2={591} y2={427} />
        <line x1={717} y1={428} x2={717} y2={14} />
        <line x1={717} y1={427} x2={1198} y2={427} />
      </g>
      <g fill="#000">
        <polygon points="110,6 106,16 114,16" />
        <polygon points="599,427 589,423 589,431" />
        <polygon points="717,6 713,16 721,16" />
        <polygon points="1206,427 1196,423 1196,431" />
      </g>
    </svg>
  );
}

export default function App() {
  return (
    <div style={{ position: "absolute", left: 0, top: 0, width: 1209, height: 459, background: "#fff", overflow: "hidden" }}>
      <Arrows />
      <Label text="Magnitude" x={124} baseline={18} />
      <Label text="Magnitude" x={732} baseline={18} />
      <Label text="Samples" x={527} baseline={448} />
      <Label text="Samples" x={1136} baseline={448} />
      {leftObjects.map((lines, r) =>
        lines.map((t, i) => <Label key={`ll${r}${i}`} text={t} x={LEFT_LABEL_POS[r].x} baseline={LEFT_LABEL_POS[r].baselines[i]} />)
      )}
      {rightObjects.map((lines, r) =>
        lines.map((t, i) => <Label key={`rl${r}${i}`} text={t} x={RIGHT_LABEL_POS[r].x} baseline={RIGHT_LABEL_POS[r].baselines[i]} />)
      )}
      {leftRows.map((row, r) =>
        row.map((s, c) => <Cell key={`l${r}${c}`} series={s} left={LEFT_COLS[c]} top={ROWS[r]} />)
      )}
      {rightRows.map((row, r) =>
        row.map((s, c) => <Cell key={`r${r}${c}`} series={s} left={RIGHT_COLS[c]} top={ROWS[r]} />)
      )}
    </div>
  );
}
